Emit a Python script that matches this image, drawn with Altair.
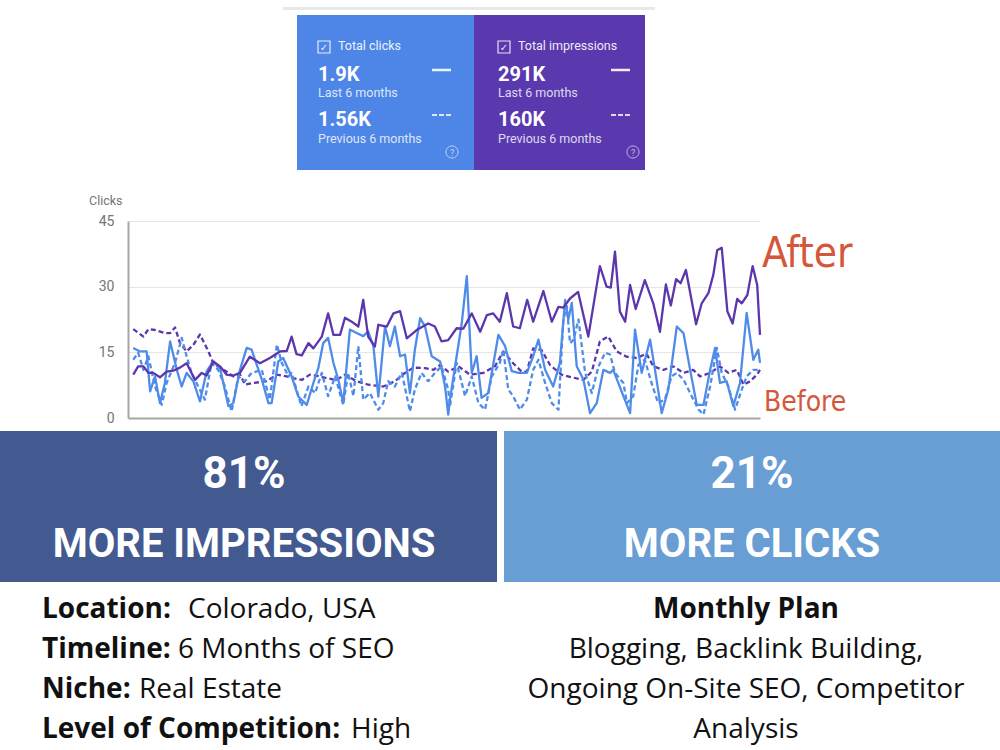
import altair as alt
import pandas as pd

# ---------------- data ----------------
# After = last 6 months, Before = previous 6 months; day index 0..180
imp_after_day = [1.5, 2.9, 4.4, 5.8, 7.2, 9.1, 11.0, 12.9, 14.8, 16.7, 19.1, 21.0, 22.4, 24.3, 26.2, 28.1, 30.0, 31.9,
                 34.7, 37.6, 40.4, 43.3, 45.2, 46.6, 48.0, 49.5, 51.4, 52.8, 55.2, 57.0, 58.5, 60.4, 61.8, 63.7, 65.6,
                 67.0, 68.4, 70.3, 71.3, 73.7, 75.6, 77.5, 79.4, 82.2, 85.5, 87.4, 89.3, 91.2, 93.6, 95.5, 97.9, 100.3,
                 102.2, 104.0, 105.9, 107.9, 109.7, 111.6, 113.7, 115.4, 118.3, 120.7, 122.6, 124.0, 125.9, 128.2,
                 131.1, 134.4, 136.3, 137.5, 138.7, 140.1, 141.6, 143.0, 144.6, 147.2, 149.6, 151.5, 153.2, 154.6,
                 156.1, 157.4, 158.9, 161.8, 163.4, 165.3, 166.7, 167.8, 169.1, 170.7, 172.2, 173.5, 174.8, 176.4,
                 177.9, 179.2, 180.0]
imp_after_val = [9.9, 11.8, 11.8, 10.3, 10.3, 9.3, 10.6, 10.8, 11.5, 12.5, 8.7, 10.3, 9.7, 12.9, 11.8, 9.9, 9.7, 10.3,
                 14.0, 12.5, 13.7, 15.2, 15.3, 18.6, 14.6, 14.3, 17.1, 15.9, 18.6, 23.9, 19.0, 19.0, 22.9, 22.0, 20.9,
                 27.0, 18.6, 16.3, 21.3, 20.9, 23.9, 24.4, 18.2, 20.1, 21.6, 20.9, 17.5, 17.8, 20.5, 20.4, 23.9, 19.7,
                 23.5, 23.9, 22.0, 28.5, 20.9, 20.5, 27.0, 22.0, 29.0, 22.0, 25.4, 25.2, 27.3, 28.8,
                 18.6, 34.7, 30.0, 29.8, 38.0, 24.3, 22.0, 30.4, 24.9, 31.5, 26.2, 19.7, 30.5, 25.7,
                 31.7, 30.8, 33.8, 21.4, 26.2, 28.5, 32.7, 38.3, 38.9, 24.4, 21.6, 27.2, 26.2, 28.1,
                 34.7, 30.4, 19.0]

imp_before_day = [1.5, 4.4, 5.8, 7.7, 10.5, 12.0, 13.4, 14.8, 16.7, 18.6, 20.5, 22.9, 24.3, 26.2, 28.1, 30.0, 31.9,
                  33.3, 35.7, 39.5, 42.4, 45.2, 47.1, 49.5, 51.8, 54.7, 56.6, 59.4, 61.8, 65.1, 68.4, 72.7, 76.0, 78.9,
                  81.3, 84.6, 87.0, 88.9, 91.2, 94.1, 97.4, 101.2, 104.5, 106.9, 109.7, 112.1, 113.6, 115.4, 117.8,
                  120.2, 123.5, 126.4, 129.7, 132.1, 134.4, 136.8, 139.2, 142.0, 144.9, 147.7, 149.6, 152.5, 155.3,
                  158.2, 161.0, 162.9, 165.8, 168.6, 171.0, 173.4, 175.3, 177.2, 179.1, 180.0]
imp_before_val = [20.3, 18.6, 20.3, 20.1, 19.4, 19.4, 20.7, 17.1, 15.2, 16.7, 19.1, 15.2, 12.5, 11.4, 10.6, 9.5, 10.0,
                  7.6, 8.0, 8.4, 9.9, 9.5, 9.1, 8.7, 9.9, 9.5, 9.1, 8.7, 9.9, 8.4, 7.6, 7.2, 8.4, 10.3,
                  11.5, 11.4, 11.0, 12.1, 10.6, 11.8, 9.9, 10.3, 11.8, 15.2, 12.5, 10.6, 10.6, 15.9, 15.5,
                  12.1, 9.9, 9.3, 8.7, 10.6, 17.5, 18.6, 15.2, 14.0, 13.7, 14.7, 11.8, 11.0, 11.8,
                  10.3, 11.0, 9.5, 10.3, 11.8, 10.3, 11.0, 7.6, 8.4, 9.9, 11.0]

clk_after_day = [1.5, 3.4, 5.3, 6.3, 7.7, 9.1, 10.5, 12.0, 13.9, 15.3, 16.7, 18.6, 20.5, 22.4, 24.3, 26.2, 28.6, 30.0,
                 31.9, 33.8, 35.2, 38.1, 40.0, 40.9, 42.8, 44.2, 46.6, 48.5, 50.9, 52.8, 54.2, 55.6, 57.0, 58.5, 59.9,
                 61.3, 63.2, 65.1, 67.0, 68.4, 69.9, 71.3, 73.2, 74.6, 76.0, 77.5, 78.9, 80.3, 81.7, 83.2, 84.6, 86.5,
                 88.9, 90.3, 91.2, 91.7, 93.6, 95.0, 96.5, 97.9, 99.3, 100.7, 102.6, 105.5, 107.4, 109.3, 111.2, 113.6,
                 115.4, 116.9, 118.8, 121.1, 123.0, 124.5, 125.4, 126.4, 127.8, 129.7, 131.6, 133.5, 135.4, 137.3,
                 138.2, 141.1, 143.0, 144.4, 146.3, 148.7, 150.1, 152.0, 153.9, 156.3, 158.2, 160.1, 162.0, 163.9,
                 165.8, 167.2, 168.6, 170.5, 172.4, 174.3, 176.2, 178.1, 179.5, 180.0]
clk_after_val = [16.0, 15.2, 15.2, 6.1, 9.5, 3.4, 8.0, 17.5, 11.0, 7.2, 10.3, 8.4, 3.8, 10.7, 12.9, 11.4, 2.7, 3.4,
                 11.0, 16.0, 15.6, 8.8, 3.4, 3.4, 12.9, 13.7, 9.5, 4.9, 3.0, 8.0, 11.4, 17.1, 18.3, 12.6, 8.8,
                 3.4, 20.2, 19.4, 18.7, 19.8, 16.4, 4.9, 20.9, 16.4, 20.9, 14.1, 14.5, 5.7, 15.6, 22.8, 20.9, 14.1,
                 12.9, 7.2, 0.8, 4.2, 14.1, 21.3, 32.4, 10.3, 14.1, 4.6, 5.7, 19.0, 16.4, 10.7, 10.3, 10.3,
                 14.1, 17.9, 11.0, 7.2, 12.6, 27.0, 22.5, 26.3, 11.8, 8.8, 1.1, 3.4, 11.0, 10.3,
                 11.0, 5.0, 1.1, 20.2, 10.3, 17.9, 11.0, 1.1, 6.5, 20.9, 19.4, 11.0, 3.0, 3.0,
                 11.0, 16.0, 8.0, 8.4, 2.7, 8.0, 24.0, 13.3, 15.6, 12.6]

clk_before_day = [1.5, 2.9, 4.4, 5.8, 7.7, 9.6, 11.0, 13.4, 15.3, 16.7, 18.1, 20.0, 21.9, 23.8, 25.7, 27.6, 29.5,
                  31.4, 33.3, 35.2, 38.1, 40.4, 42.4, 43.8, 45.7, 46.6, 49.4, 51.4, 53.3, 55.2, 57.0, 59.0, 61.3,
                  62.7, 64.2, 65.6, 67.0, 68.9, 71.3, 72.7, 74.1, 76.0, 78.0, 80.3, 81.7, 83.6, 85.5, 87.4, 89.3,
                  91.2, 91.7, 93.6, 96.0, 97.9, 99.8, 101.7, 103.6, 105.9, 106.9, 108.3, 109.7, 111.6, 113.6, 115.4,
                  116.9, 118.8, 120.7, 122.6, 124.0, 125.0, 125.9, 126.9, 128.3, 130.2, 132.1, 134.0, 135.9, 137.3,
                  138.7, 141.1, 142.1, 143.9, 145.4, 147.2, 149.1, 151.0, 152.9, 154.8, 156.3, 158.2, 160.1, 162.5,
                  163.9, 165.8, 167.7, 169.1, 171.0, 172.9, 174.8, 176.2, 178.1, 180.0]
clk_before_val = [13.3, 14.9, 11.0, 14.1, 7.2, 3.0, 8.0, 12.6, 18.3, 14.1, 10.3, 7.2, 4.2, 12.6, 11.0, 7.2, 1.5,
                  9.5, 8.4, 10.3, 11.0, 4.2, 16.8, 12.6, 9.5, 10.3, 2.7, 7.2, 5.7, 10.3, 5.0, 9.5, 3.0,
                  10.3, 5.0, 16.4, 4.2, 5.7, 1.9, 3.4, 8.4, 7.2, 10.3, 1.5, 6.5, 10.3, 8.4, 10.3, 11.8,
                  6.5, 2.7, 12.6, 5.0, 9.5, 3.4, 1.9, 9.5, 12.6, 15.6, 6.5, 5.0, 1.9, 4.2, 11.0,
                  13.3, 8.0, 3.4, 1.9, 22.5, 25.5, 17.1, 17.9, 22.5, 10.3, 5.7, 11.8, 14.9, 14.5,
                  10.3, 8.0, 3.4, 5.0, 12.2, 13.3, 8.0, 3.4, 4.2, 9.5, 10.3, 8.8, 5.7, 1.9,
                  0.8, 7.2, 16.0, 10.3, 7.2, 1.9, 6.5, 9.5, 11.0, 11.0]

y_ticks = [0, 15, 30, 45]
y_title = "Clicks"

card_titles = ["Total clicks", "Total impressions"]
card_last = ["1.9K", "291K"]
card_prev = ["1.56K", "160K"]
card_sub = ["Last 6 months", "Previous 6 months"]

banner_pct = ["81%", "21%"]
banner_txt = ["MORE IMPRESSIONS", "MORE CLICKS"]

left_bold = ["Location:", "Timeline:", "Niche:", "Level of Competition:"]
left_reg = ["Colorado, USA", "6 Months of SEO", "Real Estate", "High"]
right_lines = ["Monthly Plan", "Blogging, Backlink Building,", "Ongoing On-Site SEO, Competitor", "Analysis"]

# ---------------- styling / layout ----------------
PURPLE = "#5b36ad"
BLUE = "#4f8cea"
OX, OY = 128, 221  # plot origin in page pixels
PW, PH = 632, 197

ONE = pd.DataFrame({"k": [0]})


def px(x):
    return x - OX


def py(y):
    return y - OY


def rect(x1, y1, x2, y2, color, **kw):
    return alt.Chart(ONE).mark_rect(color=color, **kw).encode(
        x=alt.value(px(x1)), x2=alt.value(px(x2)), y=alt.value(py(y1)), y2=alt.value(py(y2)))


def rule(x1, x2, y, color, width, dash=None, opacity=1.0):
    kw = dict(color=color, strokeWidth=width, opacity=opacity)
    if dash:
        kw["strokeDash"] = dash
    return alt.Chart(ONE).mark_rule(**kw).encode(
        x=alt.value(px(x1)), x2=alt.value(px(x2)), y=alt.value(py(y)))


def text(s, x, y, size, color="white", font="Roboto", weight="normal", align="left",
         baseline="middle", opacity=1.0):
    return alt.Chart(ONE).mark_text(fontSize=size, color=color, font=font, fontWeight=weight,
                                    align=align, baseline=baseline, opacity=opacity).encode(
        x=alt.value(px(x)), y=alt.value(py(y)), text=alt.value(s))


layers = []

# ---- top cards ----
layers.append(rect(283, 7, 655, 10, "#e8e8e8"))
layers.append(rect(297, 15, 474, 170, "#4d86e6"))
layers.append(rect(474, 15, 645, 170, "#5a38ae"))
for i, x0 in enumerate([318, 498]):
    layers.append(rect(x0, 41, x0 + 12, 53, "white", filled=False, stroke="white",
                       strokeWidth=1.2, opacity=0.85))
    layers.append(text("✓", x0 + 6, 47.5, 10, font="DejaVu Sans", align="center", opacity=0.9))
    layers.append(text(card_titles[i], x0 + 20, 46, 12.5, opacity=0.9))
    layers.append(text(card_last[i], x0, 75, 20, weight="bold"))
    layers.append(text(card_sub[0], x0, 93, 12.5, opacity=0.8))
    layers.append(text(card_prev[i], x0, 120, 20, weight="bold"))
    layers.append(text(card_sub[1], x0, 139, 12.5, opacity=0.8))
    dx = 432 if i == 0 else 611
    layers.append(rule(dx, dx + 19, 70, "white", 2.5, opacity=0.9))
    layers.append(rule(dx, dx + 19, 115, "white", 2, dash=[5, 2], opacity=0.8))
    cx = 452 if i == 0 else 633
    layers.append(alt.Chart(ONE).mark_point(shape="circle", filled=False, stroke="white", strokeWidth=1,
                                            size=150, opacity=0.6).encode(
        x=alt.value(px(cx)), y=alt.value(py(152))))
    layers.append(text("?", cx, 152.5, 9, align="center", opacity=0.6))

# ---- chart title ----
layers.append(text(y_title, 89, 201, 12.5, color="#757575"))

# ---- lines ----
x_enc = alt.X("day:Q", scale=alt.Scale(domain=[0, 180], nice=False),
              axis=alt.Axis(labels=False, ticks=False, grid=False, title=None,
                            domainColor="#a6a6a6", domainWidth=2))
y_enc = alt.Y("value:Q", scale=alt.Scale(domain=[0, 45], nice=False),
              axis=alt.Axis(values=y_ticks, grid=True, gridColor="#e6e6e6", ticks=False, title=None,
                            domainColor="#a6a6a6", domainWidth=2, labelColor="#757575",
                            labelFontSize=14, labelFont="Roboto", labelPadding=14))

series = [
    (imp_before_day, imp_before_val, PURPLE, [5, 3]),
    (clk_before_day, clk_before_val, BLUE, [5, 3]),
    (clk_after_day, clk_after_val, BLUE, None),
    (imp_after_day, imp_after_val, PURPLE, None),
]
for d, v, col, dash in series:
    df = pd.DataFrame({"day": d, "value": v})
    kw = dict(color=col, strokeWidth=2.3, strokeJoin="round")
    if dash:
        kw["strokeDash"] = dash
    layers.append(alt.Chart(df).mark_line(**kw).encode(x=x_enc, y=y_enc))

# ---- After / Before ----
HAND = "DejaVu Sans Condensed, sans-serif"
layers.append(text("After", 762, 267, 42, color="#d4573b", font=HAND, baseline="alphabetic"))
layers.append(text("Before", 764, 411, 28, color="#d4573b", font=HAND, baseline="alphabetic"))

# ---- banners ----
COND = "Roboto"
layers.append(rect(0, 431, 497, 582, "#435a91"))
layers.append(rect(504, 431, 1000, 582, "#689ed4"))
for cx, p, t in [(244, banner_pct[0], banner_txt[0]), (752, banner_pct[1], banner_txt[1])]:
    layers.append(text(p, cx, 488, 44, font=COND, weight="bold", align="center", baseline="alphabetic"))
    layers.append(text(t, cx, 557, 40, font=COND, weight="bold", align="center", baseline="alphabetic"))

# ---- bottom text ----
SANS = "Open Sans"
base = [618, 658, 698, 738]
reg_x = [188, 178, 139, 351]
for b, r, y, rx in zip(left_bold, left_reg, base, reg_x):
    layers.append(text(b, 42, y, 28, color="#111111", font=SANS, weight="bold", baseline="alphabetic"))
    layers.append(text(r, rx, y, 28, color="#111111", font=SANS, baseline="alphabetic"))
for j, (s, y) in enumerate(zip(right_lines, base)):
    layers.append(text(s, 746, y, 28, color="#111111", font=SANS, weight="bold" if j == 0 else "normal",
                       align="center", baseline="alphabetic"))

chart = alt.layer(*layers).properties(
    width=PW, height=PH,
    autosize=alt.AutoSizeParams(type="none"),
    padding={"left": OX, "top": OY, "right": 1000 - OX - PW, "bottom": 750 - OY - PH},
    background="white",
).configure_view(stroke=None)

chart.save("out.html", embed_options={"renderer": "svg", "actions": False})
